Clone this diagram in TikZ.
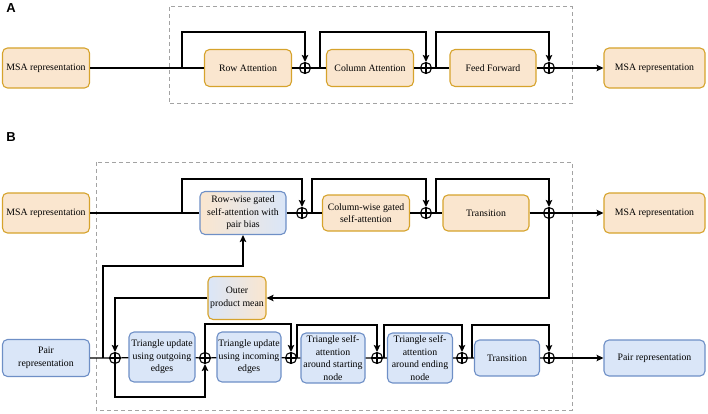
\documentclass[tikz,border=0pt]{standalone}
\usepackage{fontspec}
\setmainfont{Liberation Serif}
\newfontfamily\panelfont{Liberation Sans}
\usetikzlibrary{arrows.meta}
\definecolor{msafill}{HTML}{FAE6CF}
\definecolor{msaline}{HTML}{D6A32C}
\definecolor{pairfill}{HTML}{DAE6F8}
\definecolor{pairline}{HTML}{6E8FC6}
\definecolor{framegray}{HTML}{A3A3A3}
\tikzstyle{block} = [rounded corners=5pt, line width=1.1pt, align=center, inner sep=1pt, font=\fontsize{9.8}{12.5}\selectfont]
\tikzstyle{msabox} = [block, draw=msaline, fill=msafill]
\tikzstyle{pairbox} = [block, draw=pairline, fill=pairfill]
\tikzstyle{plus} = [circle, draw, line width=1.1pt, minimum size=11pt, inner sep=0pt, path picture={\draw[line width=1.1pt] (path picture bounding box.north) -- (path picture bounding box.south) (path picture bounding box.west) -- (path picture bounding box.east);}]
\tikzstyle{link} = [line width=1.2pt]
\tikzstyle{arr} = [link, -{Stealth[length=7pt,width=6.5pt,inset=1.5pt]}]
\tikzstyle{groupbox} = [draw=framegray, line width=1pt, dash pattern=on 4pt off 3pt]
\newcommand{\panel}[2]{\node[font=\panelfont\bfseries\fontsize{13}{15}\selectfont] (#1) at #2 {#1};}

\begin{document}
\begin{tikzpicture}[x=1pt, y=-1pt]
	\useasboundingbox (0,0) rectangle (708,414);
	% dashed groups
	\draw[groupbox] (169,7) rectangle (572,104);
	\draw[groupbox] (96,162) rectangle (572,410);
	\panel{A}{(11,8)}
	\panel{B}{(11,137)}

	% panel A
	\node[msabox, minimum width=87pt, minimum height=40pt] (msaA) at (46,68) {MSA representation};
	\node[msabox, minimum width=87pt, minimum height=37pt] (rowA) at (248,68) {Row Attention};
	\node[plus] (pA1) at (305,68) {};
	\node[msabox, minimum width=87pt, minimum height=37pt] (colA) at (370,68) {Column Attention};
	\node[plus] (pA2) at (426,68) {};
	\node[msabox, minimum width=86pt, minimum height=37pt] (ffA) at (493,68) {Feed Forward};
	\node[plus] (pA3) at (549,68) {};
	\node[msabox, minimum width=101pt, minimum height=40pt] (msaAout) at (654.5,68) {MSA representation};
	\coordinate (sA1) at (182,68);
	\coordinate (sA2) at (320,68);
	\coordinate (sA3) at (436,68);
	\draw[link] (msaA) -- (rowA) -- (pA1) -- (colA) -- (pA2) -- (ffA) -- (pA3);
	\draw[arr] (pA3) -- (msaAout);
	\draw[arr] (sA1) -- ++(0,-36) -| (pA1.north);
	\draw[arr] (sA2) -- ++(0,-36) -| (pA2.north);
	\draw[arr] (sA3) -- ++(0,-36) -| (pA3.north);

	% panel B, msa track
	\node[msabox, minimum width=87pt, minimum height=40pt] (msaB) at (46,213) {MSA representation};
	\node[block, draw=pairline, left color=msafill, right color=pairfill, minimum width=86pt, minimum height=43pt] (rowB) at (243,213) {Row-wise gated\\self-attention with\\pair bias};
	\node[plus] (pB1) at (302,213) {};
	\node[msabox, minimum width=87pt, minimum height=36pt] (colB) at (366,213) {Column-wise gated\\self-attention};
	\node[plus] (pB2) at (426,213) {};
	\node[msabox, minimum width=86pt, minimum height=36pt] (trB) at (486,213) {Transition};
	\node[plus] (pB3) at (549,213) {};
	\node[msabox, minimum width=101pt, minimum height=40pt] (msaBout) at (654.5,213) {MSA representation};
	\node[block, draw=msaline, left color=pairfill, right color=msafill, minimum width=58pt, minimum height=43pt] (opm) at (237,298) {Outer\\product mean};
	\coordinate (sB1) at (182,213);
	\coordinate (sB2) at (312,213);
	\coordinate (sB3) at (436,213);
	\draw[link] (msaB) -- (rowB) -- (pB1) -- (colB) -- (pB2) -- (trB) -- (pB3);
	\draw[arr] (pB3) -- (msaBout);
	\draw[arr] (sB1) -- ++(0,-34) -| (pB1.north);
	\draw[arr] (sB2) -- ++(0,-34) -| (pB2.north);
	\draw[arr] (sB3) -- ++(0,-34) -| (pB3.north);

	% panel B, pair track
	\node[pairbox, minimum width=87pt, minimum height=37pt] (pairL) at (46,358) {Pair\\representation};
	\node[plus] (pP1) at (115,358) {};
	\node[pairbox, minimum width=66pt, minimum height=50pt] (tuo) at (162,357) {Triangle update\\using outgoing\\edges};
	\node[plus] (pP2) at (205,358) {};
	\node[pairbox, minimum width=64pt, minimum height=50pt] (tui) at (249,357) {Triangle update\\using incoming\\edges};
	\node[plus] (pP3) at (291,358) {};
	\node[pairbox, minimum width=64pt, minimum height=50pt] (tas) at (333,358) {Triangle self-\\attention\\around starting\\node};
	\node[plus] (pP4) at (377,358) {};
	\node[pairbox, minimum width=65pt, minimum height=50pt] (tae) at (420,358) {Triangle self-\\attention\\around ending\\node};
	\node[plus] (pP5) at (462,358) {};
	\node[pairbox, minimum width=65pt, minimum height=36pt] (trP) at (507,358) {Transition};
	\node[plus] (pP6) at (549,358) {};
	\node[pairbox, minimum width=101pt, minimum height=36pt] (pairR) at (654.5,358) {Pair representation};
	\coordinate (sP0) at (103,358);
	\coordinate (sP3) at (297,358);
	\coordinate (sP4) at (384,358);
	\coordinate (sP5) at (472,358);
	\draw[link] (pairL) -- (pP1) -- (tuo) -- (pP2) -- (tui) -- (pP3) -- (tas) -- (pP4) -- (tae) -- (pP5) -- (trP) -- (pP6);
	\draw[arr] (pP6) -- (pairR);
	\draw[arr] (pP1.south) -- ++(0,33) -| (pP2.south);
	\draw[arr] (pP2.north) -- ++(0,-28) -| (pP3.north);
	\draw[arr] (sP3) -- ++(0,-33) -| (pP4.north);
	\draw[arr] (sP4) -- ++(0,-33) -| (pP5.north);
	\draw[arr] (sP5) -- ++(0,-33) -| (pP6.north);

	% between the tracks
	\draw[arr] (pB3.south) |- (opm.east);
	\draw[arr] (opm.west) -| (pP1.north);
	\draw[arr] (sP0) -- ++(0,-92) -| (rowB.south);
\end{tikzpicture}
\end{document}
